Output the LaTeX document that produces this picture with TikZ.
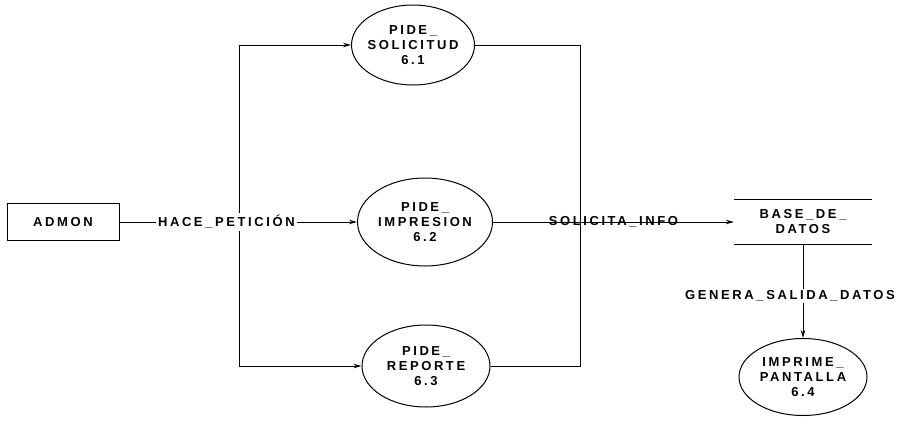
\documentclass[tikz,border=0pt]{standalone}
\usepackage{fontspec}
\usepackage{tikz}
\usetikzlibrary{arrows.meta, shapes.geometric}
\newfontfamily\dfdfont[LetterSpace=20]{Liberation Sans}

\begin{document}
\begin{tikzpicture}[
  x=1pt, y=-1pt,
  font=\dfdfont\bfseries\fontsize{13}{15}\selectfont,
  entity/.style={draw, line width=1pt, minimum width=112pt, minimum height=37pt, inner sep=0pt},
  proc/.style={ellipse, draw, line width=1pt, align=center, inner ysep=0pt, inner xsep=-6pt, minimum width=126pt, minimum height=80pt},
  store/.style={align=center, inner sep=0pt, minimum width=138pt, minimum height=45pt},
  link/.style={line width=1pt},
  flow/.style={-{Stealth[length=8pt, width=4.5pt]}, line width=1pt},
  lbl/.style={fill=white, inner sep=2pt}
]
\useasboundingbox (0,0) rectangle (908,426);

\node[entity] (admon) at (63,222) {ADMON};
\node[proc, minimum width=123pt] (solicitud) at (413,45) {PIDE\_\\SOLICITUD\\6.1};
\node[proc, minimum width=135pt, minimum height=88pt] (impresion) at (425,222) {PIDE\_\\IMPRESION\\6.2};
\node[proc, minimum width=128pt, minimum height=82pt] (reporte) at (426,366) {PIDE\_\\REPORTE\\6.3};
\node[store] (datos) at (803,222) {BASE\_DE\_\\DATOS};
\node[proc, minimum width=128pt, minimum height=77pt] (pantalla) at (803,377) {IMPRIME\_\\PANTALLA\\6.4};

\coordinate (jl) at (239,222);
\coordinate (jr) at (580,222);

% datos: only top and bottom lines
\draw[link] (datos.north west) -- (datos.north east)
            (datos.south west) -- (datos.south east);

\draw[flow] (jl) |- (solicitud.west);
\draw[flow] (jl) |- (reporte.west);
\draw[flow] (admon) -- node[lbl, pos=0.45] {HACE\_PETICIÓN} (impresion);

\draw[link] (solicitud.east) -| (jr);
\draw[link] (reporte.east) -| (jr);
\draw[flow] (impresion) -- node {SOLICITA\_INFO} (datos);

\draw[flow] (datos) -- node[lbl, pos=0.55, xshift=-13pt] {GENERA\_SALIDA\_DATOS} (pantalla);
\end{tikzpicture}
\end{document}
